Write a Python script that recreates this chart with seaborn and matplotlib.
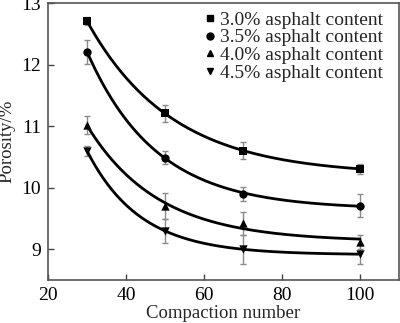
import numpy as np
import matplotlib
matplotlib.use("Agg")
import matplotlib.pyplot as plt
import seaborn as sns
import pandas as pd
from matplotlib.lines import Line2D

compaction = [30, 50, 70, 100]
labels = ["3.0% asphalt content", "3.5% asphalt content",
          "4.0% asphalt content", "4.5% asphalt content"]
porosity_30 = [12.71, 11.21, 10.60, 10.31]
porosity_35 = [12.21, 10.49, 9.90, 9.71]
porosity_40 = [11.02, 9.71, 9.42, 9.12]
porosity_45 = [10.60, 9.30, 9.00, 8.92]
err_30 = [0.07, 0.14, 0.14, 0.08]
err_35 = [0.19, 0.10, 0.12, 0.19]
err_40 = [0.14, 0.21, 0.19, 0.12]
err_45 = [0.08, 0.19, 0.24, 0.16]

series = [porosity_30, porosity_35, porosity_40, porosity_45]
errors = [err_30, err_35, err_40, err_45]
markers = ["s", "o", "^", "v"]

sns.set_theme(style="ticks")
plt.rcParams["font.family"] = ["Liberation Serif", "DejaVu Serif"]
plt.rcParams["mathtext.fontset"] = "stix"

fig = plt.figure(figsize=(4.0, 3.23), dpi=100)
ax = fig.add_axes([0.12, 0.133, 0.8775, 0.857])

def exp_fit(x, y):
    x = np.asarray(x, float)
    y = np.asarray(y, float)
    best = None
    for t in np.linspace(3, 80, 800):
        A = np.column_stack([np.ones_like(x), np.exp(-x / t)])
        coef, *_ = np.linalg.lstsq(A, y, rcond=None)
        r = np.sum((A @ coef - y) ** 2)
        if best is None or r < best[0]:
            best = (r, t, coef)
    _, t, coef = best
    return lambda xx: coef[0] + coef[1] * np.exp(-xx / t)

xs = np.linspace(min(compaction), max(compaction), 200)
for vals, errs, m, lab in zip(series, errors, markers, labels):
    f = exp_fit(compaction, vals)
    df_fit = pd.DataFrame({"x": xs, "y": f(xs)})
    sns.lineplot(data=df_fit, x="x", y="y", ax=ax, color="black", lw=2.0,
                 legend=False, zorder=3)
    ax.errorbar(compaction, vals, yerr=errs, fmt="none", ecolor="#8a8a8a",
                elinewidth=1.0, capsize=2.5, capthick=1.0, zorder=2)
    df_pts = pd.DataFrame({"x": compaction, "y": vals})
    sns.scatterplot(data=df_pts, x="x", y="y", ax=ax, marker=m, color="black",
                    s=36, edgecolor="black", linewidth=0, zorder=4, legend=False)

ax.set_xlim(20, 110)
ax.set_ylim(8.5, 13)
ax.set_xticks([20, 40, 60, 80, 100])
ax.set_yticks([9, 10, 11, 12, 13])
ax.tick_params(direction="in", length=4, width=1, colors="#444444",
               labelsize=14, labelcolor="black", pad=5)
for s in ax.spines.values():
    s.set_color("#555555")
    s.set_linewidth(1.2)
ax.set_xlabel("Compaction number", fontsize=13.5, labelpad=1)
ax.set_ylabel("Porosity/%", fontsize=13.5, labelpad=4)

handles = [Line2D([], [], marker=m, color="black", ls="none", markersize=5)
           for m in markers]
ax.legend(handles, labels, loc="upper right", frameon=False, fontsize=14,
          handlelength=0.5, handletextpad=0.3, labelspacing=0.0,
          borderaxespad=0.0, borderpad=0.2, bbox_to_anchor=(0.967, 0.985))

fig.savefig("out.png", dpi=100)
